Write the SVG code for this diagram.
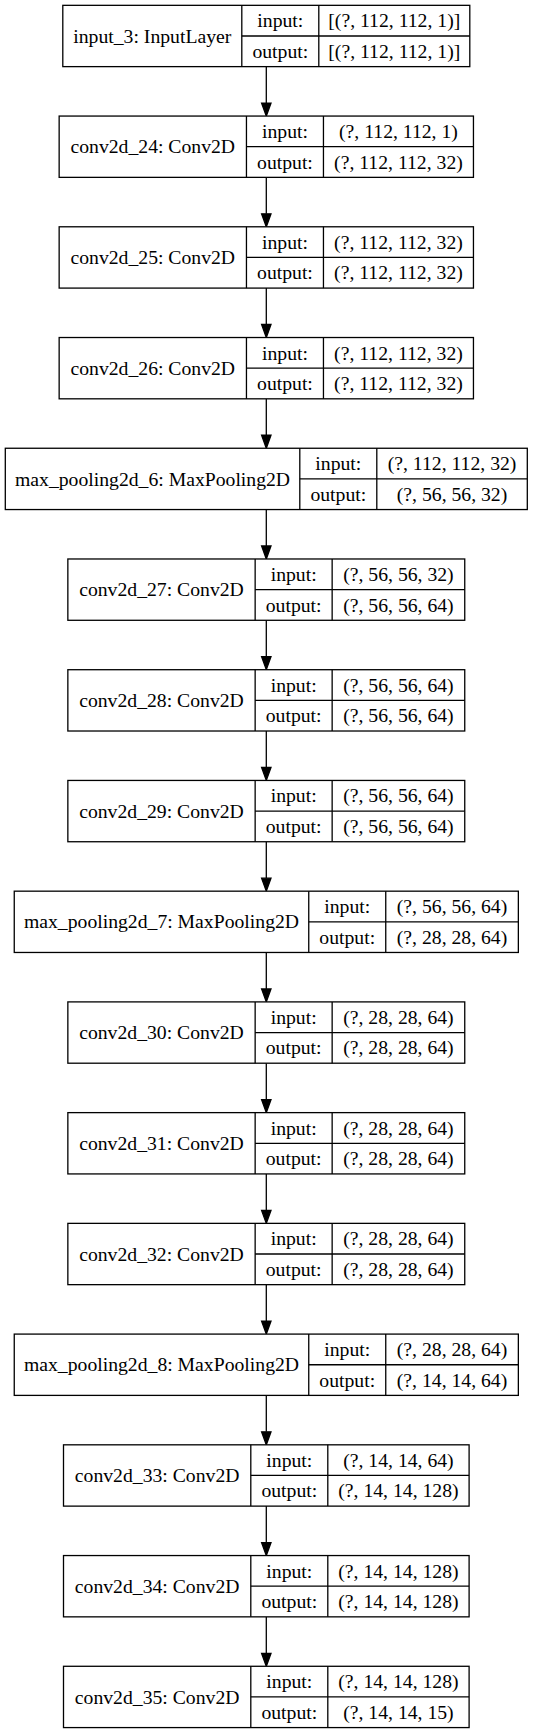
<svg xmlns="http://www.w3.org/2000/svg" width="533" height="1733" viewBox="0 0 533 1733">
<style>
.n rect { fill:#fff; stroke:#000; stroke-width:1.3; }
.n line { stroke:#000; stroke-width:1.3; }
text { font-family:"Liberation Serif","Times New Roman",serif; font-size:19.7px; text-anchor:middle; fill:#000; }
.e line { stroke:#000; stroke-width:1.3; }
.e polygon { fill:#000; stroke:#000; stroke-width:1.3; }
</style>
<rect x="0" y="0" width="533" height="1733" fill="#fff"/>
<g id="edges" class="e">
<line x1="266.3" y1="66.63" x2="266.3" y2="103.06"/><polygon points="261.6,103.06 271,103.06 266.3,116.06"/>
<line x1="266.3" y1="177.36" x2="266.3" y2="213.79"/><polygon points="261.6,213.79 271,213.79 266.3,226.79"/>
<line x1="266.3" y1="288.09" x2="266.3" y2="324.52"/><polygon points="261.6,324.52 271,324.52 266.3,337.52"/>
<line x1="266.3" y1="398.82" x2="266.3" y2="435.25"/><polygon points="261.6,435.25 271,435.25 266.3,448.25"/>
<line x1="266.3" y1="509.55" x2="266.3" y2="545.98"/><polygon points="261.6,545.98 271,545.98 266.3,558.98"/>
<line x1="266.3" y1="620.28" x2="266.3" y2="656.71"/><polygon points="261.6,656.71 271,656.71 266.3,669.71"/>
<line x1="266.3" y1="731.01" x2="266.3" y2="767.44"/><polygon points="261.6,767.44 271,767.44 266.3,780.44"/>
<line x1="266.3" y1="841.74" x2="266.3" y2="878.17"/><polygon points="261.6,878.17 271,878.17 266.3,891.17"/>
<line x1="266.3" y1="952.47" x2="266.3" y2="988.9"/><polygon points="261.6,988.9 271,988.9 266.3,1001.9"/>
<line x1="266.3" y1="1063.2" x2="266.3" y2="1099.63"/><polygon points="261.6,1099.63 271,1099.63 266.3,1112.63"/>
<line x1="266.3" y1="1173.93" x2="266.3" y2="1210.36"/><polygon points="261.6,1210.36 271,1210.36 266.3,1223.36"/>
<line x1="266.3" y1="1284.66" x2="266.3" y2="1321.09"/><polygon points="261.6,1321.09 271,1321.09 266.3,1334.09"/>
<line x1="266.3" y1="1395.39" x2="266.3" y2="1431.82"/><polygon points="261.6,1431.82 271,1431.82 266.3,1444.82"/>
<line x1="266.3" y1="1506.12" x2="266.3" y2="1542.55"/><polygon points="261.6,1542.55 271,1542.55 266.3,1555.55"/>
<line x1="266.3" y1="1616.85" x2="266.3" y2="1653.28"/><polygon points="261.6,1653.28 271,1653.28 266.3,1666.28"/>
</g>

<g id="input_3" class="n" transform="translate(0,5.33)">
<rect x="62.8" y="0" width="407" height="61.3"/>
<line x1="241.8" y1="0" x2="241.8" y2="61.3"/><line x1="318.8" y1="0" x2="318.8" y2="61.3"/><line x1="241.8" y1="30.65" x2="469.8" y2="30.65"/>
<text x="152.3" y="37.3">input_3: InputLayer</text>
<text x="280.3" y="22">input:</text><text x="280.3" y="52.6">output:</text>
<text x="394.3" y="22">[(?, 112, 112, 1)]</text><text x="394.3" y="52.6">[(?, 112, 112, 1)]</text>
</g>

<g id="conv2d_24" class="n" transform="translate(0,116.06)">
<rect x="59.15" y="0" width="414.3" height="61.3"/>
<line x1="246.45" y1="0" x2="246.45" y2="61.3"/><line x1="323.45" y1="0" x2="323.45" y2="61.3"/><line x1="246.45" y1="30.65" x2="473.45" y2="30.65"/>
<text x="152.8" y="37.3">conv2d_24: Conv2D</text>
<text x="284.95" y="22">input:</text><text x="284.95" y="52.6">output:</text>
<text x="398.45" y="22">(?, 112, 112, 1)</text><text x="398.45" y="52.6">(?, 112, 112, 32)</text>
</g>

<g id="conv2d_25" class="n" transform="translate(0,226.79)">
<rect x="59.15" y="0" width="414.3" height="61.3"/>
<line x1="246.45" y1="0" x2="246.45" y2="61.3"/><line x1="323.45" y1="0" x2="323.45" y2="61.3"/><line x1="246.45" y1="30.65" x2="473.45" y2="30.65"/>
<text x="152.8" y="37.3">conv2d_25: Conv2D</text>
<text x="284.95" y="22">input:</text><text x="284.95" y="52.6">output:</text>
<text x="398.45" y="22">(?, 112, 112, 32)</text><text x="398.45" y="52.6">(?, 112, 112, 32)</text>
</g>

<g id="conv2d_26" class="n" transform="translate(0,337.52)">
<rect x="59.15" y="0" width="414.3" height="61.3"/>
<line x1="246.45" y1="0" x2="246.45" y2="61.3"/><line x1="323.45" y1="0" x2="323.45" y2="61.3"/><line x1="246.45" y1="30.65" x2="473.45" y2="30.65"/>
<text x="152.8" y="37.3">conv2d_26: Conv2D</text>
<text x="284.95" y="22">input:</text><text x="284.95" y="52.6">output:</text>
<text x="398.45" y="22">(?, 112, 112, 32)</text><text x="398.45" y="52.6">(?, 112, 112, 32)</text>
</g>

<g id="max_pooling2d_6" class="n" transform="translate(0,448.25)">
<rect x="5.3" y="0" width="522" height="61.3"/>
<line x1="299.8" y1="0" x2="299.8" y2="61.3"/><line x1="376.8" y1="0" x2="376.8" y2="61.3"/><line x1="299.8" y1="30.65" x2="527.3" y2="30.65"/>
<text x="152.55" y="37.3">max_pooling2d_6: MaxPooling2D</text>
<text x="338.3" y="22">input:</text><text x="338.3" y="52.6">output:</text>
<text x="452.05" y="22">(?, 112, 112, 32)</text><text x="452.05" y="52.6">(?, 56, 56, 32)</text>
</g>

<g id="conv2d_27" class="n" transform="translate(0,558.98)">
<rect x="67.85" y="0" width="396.9" height="61.3"/>
<line x1="255.15" y1="0" x2="255.15" y2="61.3"/><line x1="332.15" y1="0" x2="332.15" y2="61.3"/><line x1="255.15" y1="30.65" x2="464.75" y2="30.65"/>
<text x="161.5" y="37.3">conv2d_27: Conv2D</text>
<text x="293.65" y="22">input:</text><text x="293.65" y="52.6">output:</text>
<text x="398.45" y="22">(?, 56, 56, 32)</text><text x="398.45" y="52.6">(?, 56, 56, 64)</text>
</g>

<g id="conv2d_28" class="n" transform="translate(0,669.71)">
<rect x="67.85" y="0" width="396.9" height="61.3"/>
<line x1="255.15" y1="0" x2="255.15" y2="61.3"/><line x1="332.15" y1="0" x2="332.15" y2="61.3"/><line x1="255.15" y1="30.65" x2="464.75" y2="30.65"/>
<text x="161.5" y="37.3">conv2d_28: Conv2D</text>
<text x="293.65" y="22">input:</text><text x="293.65" y="52.6">output:</text>
<text x="398.45" y="22">(?, 56, 56, 64)</text><text x="398.45" y="52.6">(?, 56, 56, 64)</text>
</g>

<g id="conv2d_29" class="n" transform="translate(0,780.44)">
<rect x="67.85" y="0" width="396.9" height="61.3"/>
<line x1="255.15" y1="0" x2="255.15" y2="61.3"/><line x1="332.15" y1="0" x2="332.15" y2="61.3"/><line x1="255.15" y1="30.65" x2="464.75" y2="30.65"/>
<text x="161.5" y="37.3">conv2d_29: Conv2D</text>
<text x="293.65" y="22">input:</text><text x="293.65" y="52.6">output:</text>
<text x="398.45" y="22">(?, 56, 56, 64)</text><text x="398.45" y="52.6">(?, 56, 56, 64)</text>
</g>

<g id="max_pooling2d_7" class="n" transform="translate(0,891.17)">
<rect x="14.25" y="0" width="504.1" height="61.3"/>
<line x1="308.75" y1="0" x2="308.75" y2="61.3"/><line x1="385.75" y1="0" x2="385.75" y2="61.3"/><line x1="308.75" y1="30.65" x2="518.35" y2="30.65"/>
<text x="161.5" y="37.3">max_pooling2d_7: MaxPooling2D</text>
<text x="347.25" y="22">input:</text><text x="347.25" y="52.6">output:</text>
<text x="452.05" y="22">(?, 56, 56, 64)</text><text x="452.05" y="52.6">(?, 28, 28, 64)</text>
</g>

<g id="conv2d_30" class="n" transform="translate(0,1001.9)">
<rect x="67.85" y="0" width="396.9" height="61.3"/>
<line x1="255.15" y1="0" x2="255.15" y2="61.3"/><line x1="332.15" y1="0" x2="332.15" y2="61.3"/><line x1="255.15" y1="30.65" x2="464.75" y2="30.65"/>
<text x="161.5" y="37.3">conv2d_30: Conv2D</text>
<text x="293.65" y="22">input:</text><text x="293.65" y="52.6">output:</text>
<text x="398.45" y="22">(?, 28, 28, 64)</text><text x="398.45" y="52.6">(?, 28, 28, 64)</text>
</g>

<g id="conv2d_31" class="n" transform="translate(0,1112.63)">
<rect x="67.85" y="0" width="396.9" height="61.3"/>
<line x1="255.15" y1="0" x2="255.15" y2="61.3"/><line x1="332.15" y1="0" x2="332.15" y2="61.3"/><line x1="255.15" y1="30.65" x2="464.75" y2="30.65"/>
<text x="161.5" y="37.3">conv2d_31: Conv2D</text>
<text x="293.65" y="22">input:</text><text x="293.65" y="52.6">output:</text>
<text x="398.45" y="22">(?, 28, 28, 64)</text><text x="398.45" y="52.6">(?, 28, 28, 64)</text>
</g>

<g id="conv2d_32" class="n" transform="translate(0,1223.36)">
<rect x="67.85" y="0" width="396.9" height="61.3"/>
<line x1="255.15" y1="0" x2="255.15" y2="61.3"/><line x1="332.15" y1="0" x2="332.15" y2="61.3"/><line x1="255.15" y1="30.65" x2="464.75" y2="30.65"/>
<text x="161.5" y="37.3">conv2d_32: Conv2D</text>
<text x="293.65" y="22">input:</text><text x="293.65" y="52.6">output:</text>
<text x="398.45" y="22">(?, 28, 28, 64)</text><text x="398.45" y="52.6">(?, 28, 28, 64)</text>
</g>

<g id="max_pooling2d_8" class="n" transform="translate(0,1334.09)">
<rect x="14.25" y="0" width="504.1" height="61.3"/>
<line x1="308.75" y1="0" x2="308.75" y2="61.3"/><line x1="385.75" y1="0" x2="385.75" y2="61.3"/><line x1="308.75" y1="30.65" x2="518.35" y2="30.65"/>
<text x="161.5" y="37.3">max_pooling2d_8: MaxPooling2D</text>
<text x="347.25" y="22">input:</text><text x="347.25" y="52.6">output:</text>
<text x="452.05" y="22">(?, 28, 28, 64)</text><text x="452.05" y="52.6">(?, 14, 14, 64)</text>
</g>

<g id="conv2d_33" class="n" transform="translate(0,1444.82)">
<rect x="63.5" y="0" width="405.6" height="61.3"/>
<line x1="250.8" y1="0" x2="250.8" y2="61.3"/><line x1="327.8" y1="0" x2="327.8" y2="61.3"/><line x1="250.8" y1="30.65" x2="469.1" y2="30.65"/>
<text x="157.15" y="37.3">conv2d_33: Conv2D</text>
<text x="289.3" y="22">input:</text><text x="289.3" y="52.6">output:</text>
<text x="398.45" y="22">(?, 14, 14, 64)</text><text x="398.45" y="52.6">(?, 14, 14, 128)</text>
</g>

<g id="conv2d_34" class="n" transform="translate(0,1555.55)">
<rect x="63.5" y="0" width="405.6" height="61.3"/>
<line x1="250.8" y1="0" x2="250.8" y2="61.3"/><line x1="327.8" y1="0" x2="327.8" y2="61.3"/><line x1="250.8" y1="30.65" x2="469.1" y2="30.65"/>
<text x="157.15" y="37.3">conv2d_34: Conv2D</text>
<text x="289.3" y="22">input:</text><text x="289.3" y="52.6">output:</text>
<text x="398.45" y="22">(?, 14, 14, 128)</text><text x="398.45" y="52.6">(?, 14, 14, 128)</text>
</g>

<g id="conv2d_35" class="n" transform="translate(0,1666.28)">
<rect x="63.5" y="0" width="405.6" height="61.3"/>
<line x1="250.8" y1="0" x2="250.8" y2="61.3"/><line x1="327.8" y1="0" x2="327.8" y2="61.3"/><line x1="250.8" y1="30.65" x2="469.1" y2="30.65"/>
<text x="157.15" y="37.3">conv2d_35: Conv2D</text>
<text x="289.3" y="22">input:</text><text x="289.3" y="52.6">output:</text>
<text x="398.45" y="22">(?, 14, 14, 128)</text><text x="398.45" y="52.6">(?, 14, 14, 15)</text>
</g>
</svg>
